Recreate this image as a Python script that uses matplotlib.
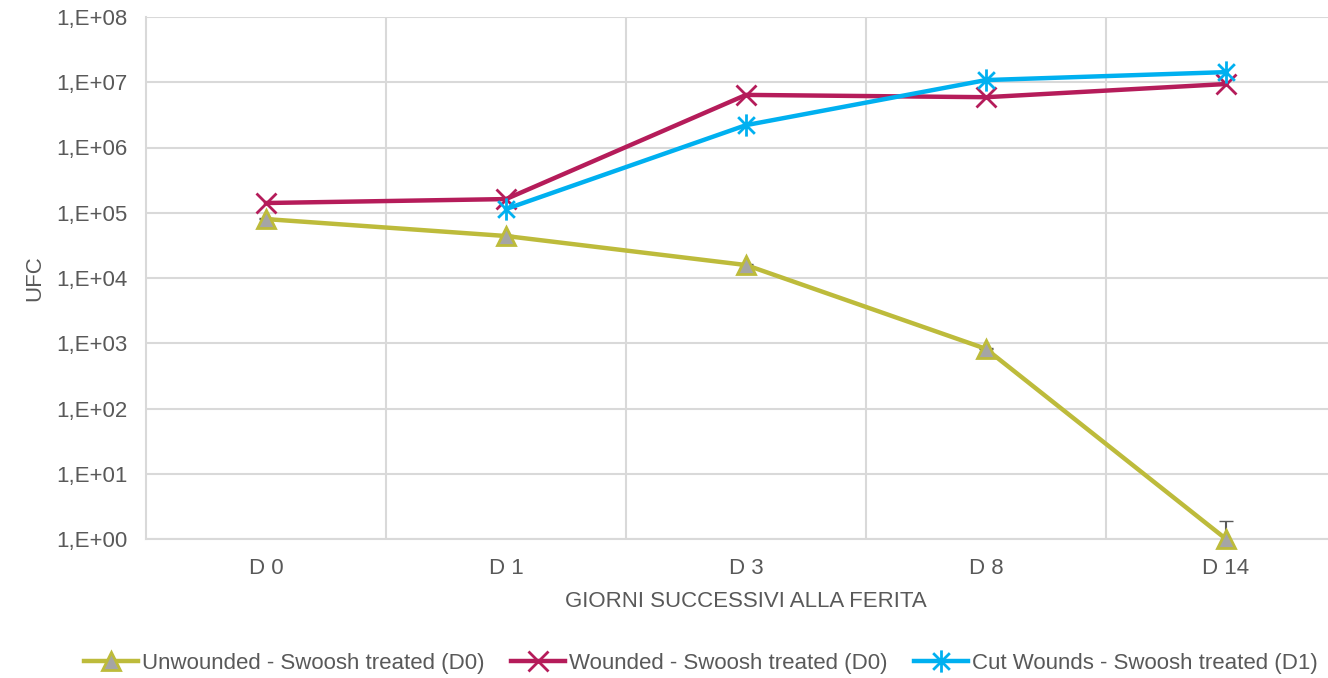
import matplotlib.pyplot as plt
import numpy as np
from matplotlib.path import Path
from matplotlib.ticker import FixedLocator, NullLocator

plt.rcParams['font.family'] = ['Liberation Sans', 'DejaVu Sans']

days = ['D 0', 'D 1', 'D 3', 'D 8', 'D 14']
unwounded = [8.0e4, 4.4e4, 1.58e4, 8.2e2, 1.0]
wounded = [1.41e5, 1.62e5, 6.4e6, 5.9e6, 9.4e6]
cut = [np.nan, 1.14e5, 2.2e6, 1.08e7, 1.43e7]
# upper error for the unwounded series (only D14 is really visible)
unwounded_err = [4.0e3, 2.0e3, 8.0e2, 4.0e1, 0.9]

yticks = [10.0 ** k for k in range(0, 9)]
ylabels = ['1,E+%02d' % k for k in range(0, 9)]

c_unw = '#BDBB3B'
c_wnd = '#B51C5A'
c_cut = '#00B0F0'
txt = '#595959'

# asterisk = X plus a vertical bar
d = 0.75
star = Path([(0, -1), (0, 1), (-d, -d), (d, d), (-d, d), (d, -d)],
            [Path.MOVETO, Path.LINETO] * 3)

fig = plt.figure(figsize=(13.28, 6.78), dpi=100)
ax = fig.add_axes([146 / 1328, 139 / 678, 1200 / 1328, 522 / 678])

x = np.arange(len(days))

ax.errorbar(x, unwounded, yerr=[np.zeros(5), unwounded_err], fmt='none',
            ecolor='#595959', elinewidth=1.5, capsize=5, zorder=2)
ax.plot(x, unwounded, color=c_unw, lw=3.2, marker='^', ms=13,
        mfc='#A5A5A5', mec=c_unw, mew=2, zorder=3, clip_on=False,
        label='Unwounded - Swoosh treated (D0)')
ax.plot(x, wounded, color=c_wnd, lw=3.2, marker='x', ms=14, mew=2,
        zorder=4, clip_on=False, label='Wounded - Swoosh treated (D0)')
ax.plot(x, cut, color=c_cut, lw=3.2, marker=star, ms=16, mew=2,
        mfc='none', zorder=5, clip_on=False,
        label='Cut Wounds - Swoosh treated (D1)')

ax.set_yscale('log')
ax.set_ylim(1, 1e8)
ax.set_xlim(-0.5, 4.5)
ax.yaxis.set_major_locator(FixedLocator(yticks))
ax.yaxis.set_minor_locator(NullLocator())
ax.set_yticklabels(ylabels)
ax.set_xticks(x)
ax.set_xticklabels(days)
ax.set_xticks(x[:-1] + 0.5, minor=True)

ax.grid(True, axis='y', which='major', color='#D9D9D9', lw=1.5)
ax.grid(True, axis='x', which='minor', color='#D9D9D9', lw=1.5)
ax.set_axisbelow(True)
for s in ['top', 'right']:
    ax.spines[s].set_visible(False)
for s in ['left', 'bottom']:
    ax.spines[s].set_color('#D9D9D9')
    ax.spines[s].set_linewidth(1.5)

ax.tick_params(axis='both', which='both', length=0, colors=txt, labelsize=16)
ax.tick_params(axis='y', pad=13)
ax.tick_params(axis='x', pad=14)

ax.set_xlabel('GIORNI SUCCESSIVI ALLA FERITA', fontsize=16, color=txt, labelpad=8)
ax.set_ylabel('UFC', fontsize=16, color=txt, labelpad=8)

fig.legend(loc='center', bbox_to_anchor=(0.528, 0.022), ncol=3, frameon=False,
           fontsize=16, labelcolor=txt, handlelength=2.4, handletextpad=0.2,
           columnspacing=1.2)

fig.savefig('out.png', dpi=100)
